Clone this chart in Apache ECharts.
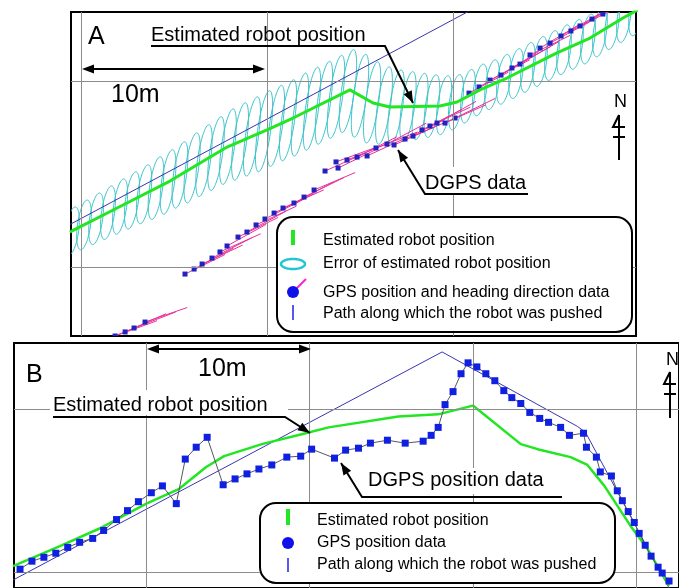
<!DOCTYPE html>
<html>
<head>
<meta charset="utf-8">
<script src="https://cdn.jsdelivr.net/npm/echarts@6/dist/echarts.min.js"></script>
<style>
  html, body { margin: 0; padding: 0; background: #fff; }
  #main { width: 679px; height: 588px; }
</style>
</head>
<body>
<div id="main"></div>
<script>
// ---------- Panel A: coordinates in metres (origin on a grid crossing) ----------
const gridTicksA = { x: [0, 10, 20], y: [0, 10] };

// straight path the robot was pushed along
const pathA = [[-1.0, 2.07], [21.5, 14.1]];

// estimated robot position
const estimatedA = [
  [-0.6, 1.88], [-0.48, 1.94], [2.47, 3.44], [4.78, 4.62], [7.85, 6.45], [10.0, 7.37],
  [11.4, 8.01], [14.46, 9.52], [15.7, 8.82], [16.61, 8.6], [19.3, 8.66], [20.22, 8.87],
  [21.45, 9.52], [22.9, 10.16], [25.59, 11.51], [27.37, 12.31], [29.14, 13.39], [30.3, 14.03]
];

// error ellipses of the estimate: [centre x, centre y, semi-major axis]
const errorEllipsesA = [
  [-0.48,1.94,1.30],[0.16,2.26,1.35],[0.81,2.59,1.40],[1.45,2.92,1.45],[2.10,3.25,1.50],
  [2.74,3.58,1.55],[3.39,3.91,1.60],[4.03,4.24,1.70],[4.68,4.57,1.75],[5.32,4.95,1.80],
  [5.97,5.33,1.90],[6.61,5.72,1.95],[7.26,6.10,2.00],[7.90,6.47,2.05],[8.55,6.75,2.10],
  [9.19,7.02,2.15],[9.84,7.30,2.20],[10.48,7.59,2.20],[11.13,7.89,2.20],[11.77,8.19,2.25],
  [12.42,8.51,2.25],[13.06,8.83,2.25],[13.71,9.15,2.25],[14.35,9.46,2.25],[15.00,9.21,2.25],
  [15.65,8.85,2.20],[16.29,8.68,2.10],[16.94,8.61,2.00],[17.58,8.62,1.90],[18.23,8.63,1.80],
  [18.87,8.65,1.70],[19.52,8.70,1.60],[20.16,8.86,1.50],[20.81,9.18,1.45],[21.45,9.52,1.40],
  [22.10,9.80,1.35],[22.74,10.09,1.35],[23.39,10.40,1.35],[24.03,10.73,1.35],[24.68,11.05,1.35],
  [25.32,11.37,1.35],[25.97,11.68,1.35],[26.61,11.97,1.35],[27.26,12.26,1.35],[27.90,12.64,1.35],
  [28.55,13.03,1.35],[29.19,13.41,1.35],[29.84,13.77,1.35]
];
const errorSemiMinor = 0.35;  // metres
const errorTiltDeg = 8;       // major axis, clockwise from north

// DGPS fixes with heading: [x, y, heading in degrees from east]
const dgpsA = [
  // north-east run
  [20.86,9.35,28],[21.40,9.68,30],[21.99,10.05,27],[22.58,10.32,32],[23.17,10.70,29],
  [23.60,10.91,30],[24.14,11.40,26],[24.68,11.77,31],[25.22,12.04,28],[25.81,12.42,30],
  [26.34,12.69,27],[26.83,12.96,29],[27.47,13.33,31],[28.06,13.60,28],[28.66,13.92,30],
  // middle run
  [13.12,5.16,24],[13.71,5.65,20],[13.82,5.32,26],[14.30,5.75,22],[14.84,5.91,27],
  [15.38,5.97,25],[15.86,6.40,21],[16.45,6.61,28],[16.83,6.56,24],[17.42,6.88,26],
  [17.85,7.04,23],[18.33,7.37,27],[18.76,7.58,25],[19.14,7.74,29],[19.57,7.74,24],[20.11,8.01,26],
  // lower run
  [5.59,-0.38,26],[6.08,-0.11,28],[6.51,0.16,25],[7.04,0.48,27],[7.47,0.81,24],
  [7.85,1.13,29],[8.44,1.61,26],[8.92,1.88,28],[9.41,2.26,25],[9.89,2.58,27],
  [10.38,2.90,26],[10.86,3.17,24],[11.45,3.44,28],[11.99,3.76,26],[12.53,4.14,23],
  // south-west run
  [1.29,-3.92,22],[1.83,-3.71,20],[2.37,-3.49,24],[2.85,-3.28,21],[3.44,-2.96,19]
];
const headingLength = 2.4;    // metres

// ---------- Panel B ----------
const gridTicksB = { x: [0, 10, 20, 30], y: [0, 10] };

const pathB = [[-8.17, -0.49], [18.11, 13.54], [26.40, 8.96], [26.89, 8.60], [32.01, -0.98]];

const estimatedB = [
  [-8.17,0.37],[-5.30,1.59],[-2.87,2.68],[0,4.21],[2.01,5.12],[3.66,6.46],[4.76,7.13],
  [7.07,7.87],[9.51,8.48],[11.16,8.90],[15.43,9.57],[17.87,9.70],[20.0,10.24],[22.93,7.87],
  [23.96,7.56],[25.98,7.07],[27.01,6.59],[28.05,5.30],[29.63,2.87],[30.67,1.46],[32.01,-0.85]
];

const dgpsB = [
  [-7.74,0.18],[-7.01,0.67],[-6.28,0.91],[-5.55,1.16],[-4.82,1.52],[-4.09,1.83],[-3.29,2.07],
  [-2.62,2.56],[-1.83,3.23],[-1.16,3.78],[-0.49,4.33],[0.30,4.88],[0.98,5.30],[1.83,4.21],
  [2.38,6.95],[3.05,7.68],[3.72,8.29],[4.70,5.37],[5.43,5.73],[6.16,6.04],[6.89,6.34],
  [7.68,6.59],[8.60,7.07],[9.45,7.13],[10.12,7.56],[11.52,7.01],[12.20,7.50],[12.99,7.62],
  [13.72,7.93],[14.76,8.11],[15.85,7.93],[16.95,8.05],[17.44,8.41],[17.87,8.90],[18.29,10.30],
  [18.78,11.10],[19.27,12.20],[19.70,12.87],[20.24,12.62],[20.79,12.20],[21.34,11.77],
  [21.89,11.16],[22.38,10.73],[22.93,10.37],[23.48,9.82],[24.09,9.45],[24.63,9.21],
  [25.37,8.90],[25.91,8.41],[26.77,8.54],[26.95,7.68],[27.56,7.07],[27.80,6.16],[28.48,5.91],
  [28.84,5.00],[29.15,4.39],[29.51,3.72],[29.88,3.05],[30.18,2.38],[30.55,1.65],[30.91,0.98],
  [31.34,0.30],[31.59,-0.06],[32.01,-0.55]
];

// ---------- drawing ----------
const FONT = '"Liberation Sans", Arial, Helvetica, sans-serif';
const GREEN = '#22e622';
const CYAN = '#3cc4cc';
const PATH_BLUE = '#3a34b0';
const MAGENTA = '#e8309a';
const GRID_GREY = '#8c8c8c';

function gridLines(ticks) {
  return ticks.x.map(v => ({ xAxis: v })).concat(ticks.y.map(v => ({ yAxis: v })));
}

function gridSeries(idx, ticks) {
  return {
    type: 'line', xAxisIndex: idx, yAxisIndex: idx, data: [], z: 1, silent: true,
    markLine: {
      silent: true, symbol: ['none', 'none'], label: { show: false }, animation: false,
      lineStyle: { color: GRID_GREY, width: 1, type: 'solid' },
      emphasis: { disabled: true },
      data: gridLines(ticks)
    }
  };
}

// outline of an ellipse: a = semi-axis along the (tilted) vertical, b = horizontal
function ellipsePoints(cx, cy, a, b, phi) {
  const pts = [];
  for (let k = 0; k <= 64; k++) {
    const t = k / 64 * Math.PI * 2;
    const u = b * Math.cos(t), v = a * Math.sin(t);
    pts.push([cx + u * Math.cos(phi) + v * Math.sin(phi), cy + u * Math.sin(phi) - v * Math.cos(phi)]);
  }
  return pts;
}

function renderEllipse(params, api) {
  const c = api.coord([api.value(0), api.value(1)]);
  const s = api.size([errorSemiMinor, api.value(2)]);
  const phi = errorTiltDeg * Math.PI / 180;
  return {
    type: 'polygon',
    shape: { points: ellipsePoints(c[0], c[1], s[1], s[0], phi) },
    style: { fill: 'none', stroke: CYAN, lineWidth: 1 }
  };
}

function renderFix(params, api) {
  const x = api.value(0), y = api.value(1), h = api.value(2) * Math.PI / 180;
  const c = api.coord([x, y]);
  const e = api.coord([x + headingLength * Math.cos(h), y + headingLength * Math.sin(h)]);
  return {
    type: 'group',
    children: [
      { type: 'line', shape: { x1: c[0], y1: c[1], x2: e[0], y2: e[1] },
        style: { stroke: MAGENTA, lineWidth: 1 } },
      { type: 'rect', shape: { x: c[0] - 2.5, y: c[1] - 2.5, width: 5, height: 5 },
        style: { fill: '#2222c0' } }
    ]
  };
}

// ---------- annotation helpers ----------
function txt(text, x, y, size, align) {
  return { type: 'text', z: 100, x: x, y: y,
    style: { text: text, font: size + 'px ' + FONT, fill: '#000',
      textAlign: align || 'left', textVerticalAlign: 'middle' } };
}
function whiteBox(x, y, w, h) {
  return { type: 'rect', z: 99, shape: { x: x, y: y, width: w, height: h }, style: { fill: '#fff' } };
}
function head(tip, prev, len, half) {
  len = len || 12; half = half || 4.5;
  const dx = tip[0] - prev[0], dy = tip[1] - prev[1], d = Math.hypot(dx, dy);
  const ux = dx / d, uy = dy / d;
  const bx = tip[0] - ux * len, by = tip[1] - uy * len;
  return { type: 'polygon', z: 100,
    shape: { points: [tip, [bx - uy * half, by + ux * half], [bx + uy * half, by - ux * half]] },
    style: { fill: '#000' } };
}
function leader(points) {
  const n = points.length;
  return [
    { type: 'polyline', z: 100, shape: { points: points }, style: { stroke: '#000', lineWidth: 2, fill: null } },
    head(points[n - 1], points[n - 2])
  ];
}
function scaleBar(x1, x2, y) {
  return [
    { type: 'line', z: 100, shape: { x1: x1 + 4, y1: y, x2: x2 - 4, y2: y }, style: { stroke: '#000', lineWidth: 2 } },
    head([x1, y], [x2, y]), head([x2, y], [x1, y])
  ];
}
function north(x, nx, ny, top, bottom) {
  const st = { stroke: '#000', lineWidth: 2, fill: null };
  return [
    txt('N', nx, ny, 18, 'center'),
    { type: 'line', z: 100, shape: { x1: x, y1: top, x2: x, y2: bottom }, style: st },
    { type: 'polyline', z: 100, shape: { points: [[x, top], [x - 6, top + 12], [x + 6, top + 12]] }, style: st },
    { type: 'line', z: 100, shape: { x1: x - 6, y1: top + 22, x2: x + 6, y2: top + 22 }, style: st }
  ];
}
function legendBox(x, y, w, h) {
  return { type: 'rect', z: 98, shape: { x: x, y: y, width: w, height: h, r: 16 },
    style: { fill: '#fff', stroke: '#000', lineWidth: 2 } };
}

const graphics = [].concat(
  // Panel A labels
  txt('A', 88, 37.5, 25),
  txt('Estimated robot position', 151, 35, 20),
  leader([[151, 46], [385, 46], [413, 103]]),
  scaleBar(82, 265, 69),
  txt('10m', 111, 95, 25),
  whiteBox(423, 167, 108, 26),
  txt('DGPS data', 425, 183, 20),
  leader([[528, 194], [425, 194], [398, 150]]),
  north(619, 620.5, 102, 115, 160),
  // Panel A legend
  legendBox(277, 217, 355, 115),
  { type: 'rect', z: 100, shape: { x: 291, y: 230, width: 4, height: 15 }, style: { fill: GREEN } },
  txt('Estimated robot position', 323, 241, 16),
  { type: 'polygon', z: 100, shape: { points: ellipsePoints(293, 264, 5, 12, 0) },
    style: { fill: 'none', stroke: '#22c6d2', lineWidth: 2.5 } },
  txt('Error of estimated robot position', 323, 264, 16),
  { type: 'line', z: 100, shape: { x1: 293, y1: 292, x2: 306, y2: 279 }, style: { stroke: '#ff22cc', lineWidth: 2 } },
  { type: 'circle', z: 100, shape: { cx: 293, cy: 292, r: 6 }, style: { fill: '#1010e8' } },
  txt('GPS position and heading direction data', 323, 292.5, 16),
  { type: 'line', z: 100, shape: { x1: 293, y1: 305, x2: 293, y2: 320 }, style: { stroke: '#2020e8', lineWidth: 1.5 } },
  txt('Path along which the robot was pushed', 323, 314, 16),

  // Panel B labels
  txt('B', 26, 375, 25),
  scaleBar(147, 311, 349),
  txt('10m', 198, 369, 25),
  whiteBox(50, 390, 238, 25),
  txt('Estimated robot position', 53, 405.5, 20),
  leader([[53, 417], [285, 417], [310, 433]]),
  whiteBox(365, 468, 186, 26),
  txt('DGPS position data', 368, 480.5, 20),
  leader([[562, 497], [362, 497], [341, 463]]),
  north(670, 672.5, 360, 372, 418),
  // Panel B legend
  legendBox(260, 503, 355, 80),
  { type: 'rect', z: 100, shape: { x: 286, y: 509, width: 4, height: 16 }, style: { fill: GREEN } },
  txt('Estimated robot position', 317, 521, 16),
  { type: 'circle', z: 100, shape: { cx: 288, cy: 543, r: 6 }, style: { fill: '#1010e8' } },
  txt('GPS position data', 317, 543, 16),
  { type: 'line', z: 100, shape: { x1: 288, y1: 558, x2: 288, y2: 572 }, style: { stroke: '#2020e8', lineWidth: 1.5 } },
  txt('Path along which the robot was pushed', 317, 564.5, 16)
);

const chart = echarts.init(document.getElementById('main'), null, { renderer: 'canvas' });
chart.setOption({
  animation: false,
  backgroundColor: '#fff',
  grid: [
    { left: 71, top: 12, width: 565, height: 324, show: true, backgroundColor: '#fff', borderColor: '#000', borderWidth: 2 },
    { left: 14, top: 343, width: 668, height: 247, show: true, backgroundColor: '#fff', borderColor: '#000', borderWidth: 2 }
  ],
  xAxis: [
    { type: 'value', gridIndex: 0, min: -0.54, max: 29.84, show: false },
    { type: 'value', gridIndex: 1, min: -8.11, max: 32.62, show: false }
  ],
  yAxis: [
    { type: 'value', gridIndex: 0, min: -3.71, max: 13.71, show: false },
    { type: 'value', gridIndex: 1, min: -0.98, max: 14.09, show: false }
  ],
  series: [
    gridSeries(0, gridTicksA),
    gridSeries(1, gridTicksB),
    { type: 'custom', xAxisIndex: 0, yAxisIndex: 0, data: errorEllipsesA, renderItem: renderEllipse, clip: true, z: 2, silent: true },
    { type: 'line', xAxisIndex: 0, yAxisIndex: 0, data: pathA, showSymbol: false, symbol: 'none', z: 3,
      lineStyle: { color: PATH_BLUE, width: 1 }, silent: true },
    { type: 'custom', xAxisIndex: 0, yAxisIndex: 0, data: dgpsA, renderItem: renderFix, clip: true, z: 4, silent: true },
    { type: 'line', xAxisIndex: 0, yAxisIndex: 0, data: estimatedA, showSymbol: false, symbol: 'none', z: 5,
      lineStyle: { color: GREEN, width: 3 }, silent: true },

    { type: 'line', xAxisIndex: 1, yAxisIndex: 1, data: pathB, showSymbol: false, symbol: 'none', z: 3,
      lineStyle: { color: PATH_BLUE, width: 1 }, silent: true },
    { type: 'line', xAxisIndex: 1, yAxisIndex: 1, data: estimatedB, showSymbol: false, symbol: 'none', z: 4,
      lineStyle: { color: GREEN, width: 2.5 }, silent: true },
    { type: 'line', xAxisIndex: 1, yAxisIndex: 1, data: dgpsB, symbol: 'rect', symbolSize: 7, showSymbol: true, z: 5,
      itemStyle: { color: '#1020e0' }, lineStyle: { color: '#555560', width: 1 }, silent: true }
  ],
  graphic: graphics
});
</script>
</body>
</html>
